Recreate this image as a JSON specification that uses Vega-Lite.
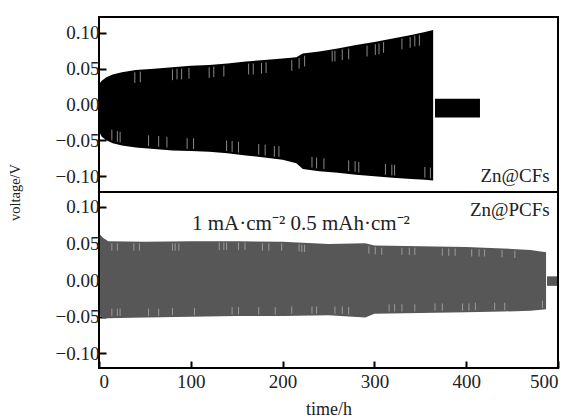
{
  "$schema": "https://vega.github.io/schema/vega-lite/v6.json",
  "autosize": {"type": "pad"},
  "padding": {"left": 6, "top": 16, "right": 14, "bottom": 0},
  "spacing": 0,
  "bounds": "flush",
  "background": "white",
  "config": {
    "font": "Liberation Serif, Times New Roman, Times, serif",
    "view": {"stroke": "black", "strokeWidth": 2},
    "axis": {
      "domain": false,
      "grid": false,
      "tickColor": "black",
      "tickWidth": 2,
      "tickSize": -7,
      "labelFont": "Liberation Serif, Times New Roman, Times, serif",
      "labelFontSize": 19,
      "labelColor": "#222",
      "titleFont": "Liberation Serif, Times New Roman, Times, serif",
      "titleFontSize": 18,
      "titleFontWeight": "normal",
      "titleColor": "#222"
    }
  },
  "datasets": {
    "cfs": [
      {"h": 1, "hi": 0.030, "lo": -0.040, "seg": "a"},
      {"h": 3, "hi": 0.033, "lo": -0.045, "seg": "a"},
      {"h": 8, "hi": 0.038, "lo": -0.050, "seg": "a"},
      {"h": 15, "hi": 0.042, "lo": -0.054, "seg": "a"},
      {"h": 25, "hi": 0.045, "lo": -0.057, "seg": "a"},
      {"h": 40, "hi": 0.048, "lo": -0.060, "seg": "a"},
      {"h": 60, "hi": 0.050, "lo": -0.062, "seg": "a"},
      {"h": 80, "hi": 0.052, "lo": -0.064, "seg": "a"},
      {"h": 100, "hi": 0.054, "lo": -0.065, "seg": "a"},
      {"h": 120, "hi": 0.055, "lo": -0.066, "seg": "a"},
      {"h": 140, "hi": 0.057, "lo": -0.068, "seg": "a"},
      {"h": 160, "hi": 0.060, "lo": -0.071, "seg": "a"},
      {"h": 180, "hi": 0.062, "lo": -0.074, "seg": "a"},
      {"h": 200, "hi": 0.064, "lo": -0.077, "seg": "a"},
      {"h": 215, "hi": 0.066, "lo": -0.082, "seg": "a"},
      {"h": 222, "hi": 0.071, "lo": -0.090, "seg": "a"},
      {"h": 240, "hi": 0.074, "lo": -0.093, "seg": "a"},
      {"h": 260, "hi": 0.078, "lo": -0.095, "seg": "a"},
      {"h": 280, "hi": 0.083, "lo": -0.098, "seg": "a"},
      {"h": 300, "hi": 0.087, "lo": -0.100, "seg": "a"},
      {"h": 320, "hi": 0.092, "lo": -0.102, "seg": "a"},
      {"h": 340, "hi": 0.097, "lo": -0.104, "seg": "a"},
      {"h": 355, "hi": 0.101, "lo": -0.105, "seg": "a"},
      {"h": 364, "hi": 0.104, "lo": -0.106, "seg": "a"},
      {"h": 366, "hi": 0.008, "lo": -0.018, "seg": "b"},
      {"h": 415, "hi": 0.008, "lo": -0.018, "seg": "b"}
    ],
    "pcfs": [
      {"h": 1, "hi": 0.062, "lo": -0.048, "seg": "a"},
      {"h": 4, "hi": 0.058, "lo": -0.052, "seg": "a"},
      {"h": 10, "hi": 0.053, "lo": -0.052, "seg": "a"},
      {"h": 50, "hi": 0.052, "lo": -0.051, "seg": "a"},
      {"h": 100, "hi": 0.053, "lo": -0.050, "seg": "a"},
      {"h": 150, "hi": 0.053, "lo": -0.049, "seg": "a"},
      {"h": 200, "hi": 0.052, "lo": -0.049, "seg": "a"},
      {"h": 250, "hi": 0.049, "lo": -0.048, "seg": "a"},
      {"h": 290, "hi": 0.050, "lo": -0.051, "seg": "a"},
      {"h": 300, "hi": 0.047, "lo": -0.046, "seg": "a"},
      {"h": 350, "hi": 0.046, "lo": -0.045, "seg": "a"},
      {"h": 400, "hi": 0.045, "lo": -0.044, "seg": "a"},
      {"h": 440, "hi": 0.043, "lo": -0.043, "seg": "a"},
      {"h": 470, "hi": 0.041, "lo": -0.042, "seg": "a"},
      {"h": 487, "hi": 0.038, "lo": -0.040, "seg": "a"},
      {"h": 488, "hi": 0.005, "lo": -0.008, "seg": "b"},
      {"h": 499, "hi": 0.005, "lo": -0.008, "seg": "b"}
    ],
    "cfsStripes": [
      {"h": 39, "v1": 0.045, "v2": 0.030}, {"h": 45, "v1": 0.046, "v2": 0.031},
      {"h": 80, "v1": 0.049, "v2": 0.034}, {"h": 85, "v1": 0.050, "v2": 0.035},
      {"h": 90, "v1": 0.050, "v2": 0.035}, {"h": 98, "v1": 0.051, "v2": 0.036},
      {"h": 120, "v1": 0.052, "v2": 0.037}, {"h": 125, "v1": 0.053, "v2": 0.038},
      {"h": 136, "v1": 0.054, "v2": 0.039}, {"h": 163, "v1": 0.057, "v2": 0.042},
      {"h": 168, "v1": 0.057, "v2": 0.042}, {"h": 177, "v1": 0.058, "v2": 0.043},
      {"h": 182, "v1": 0.059, "v2": 0.044}, {"h": 210, "v1": 0.062, "v2": 0.047},
      {"h": 218, "v1": 0.065, "v2": 0.050}, {"h": 224, "v1": 0.068, "v2": 0.053},
      {"h": 254, "v1": 0.075, "v2": 0.060}, {"h": 257, "v1": 0.075, "v2": 0.060},
      {"h": 265, "v1": 0.077, "v2": 0.062}, {"h": 272, "v1": 0.078, "v2": 0.063},
      {"h": 292, "v1": 0.082, "v2": 0.067}, {"h": 301, "v1": 0.084, "v2": 0.069},
      {"h": 305, "v1": 0.085, "v2": 0.070}, {"h": 310, "v1": 0.087, "v2": 0.072},
      {"h": 330, "v1": 0.092, "v2": 0.077}, {"h": 339, "v1": 0.094, "v2": 0.079},
      {"h": 344, "v1": 0.096, "v2": 0.081}, {"h": 349, "v1": 0.097, "v2": 0.082},
      {"h": 14, "v1": -0.050, "v2": -0.035}, {"h": 20, "v1": -0.052, "v2": -0.037},
      {"h": 23, "v1": -0.053, "v2": -0.038}, {"h": 54, "v1": -0.058, "v2": -0.043},
      {"h": 65, "v1": -0.059, "v2": -0.044}, {"h": 74, "v1": -0.060, "v2": -0.045},
      {"h": 96, "v1": -0.062, "v2": -0.047}, {"h": 103, "v1": -0.062, "v2": -0.047},
      {"h": 139, "v1": -0.065, "v2": -0.050}, {"h": 145, "v1": -0.066, "v2": -0.051},
      {"h": 152, "v1": -0.067, "v2": -0.052}, {"h": 174, "v1": -0.070, "v2": -0.055},
      {"h": 181, "v1": -0.071, "v2": -0.056}, {"h": 191, "v1": -0.073, "v2": -0.058},
      {"h": 196, "v1": -0.073, "v2": -0.058}, {"h": 232, "v1": -0.088, "v2": -0.073},
      {"h": 237, "v1": -0.089, "v2": -0.074}, {"h": 245, "v1": -0.090, "v2": -0.075},
      {"h": 272, "v1": -0.093, "v2": -0.078}, {"h": 279, "v1": -0.094, "v2": -0.079},
      {"h": 283, "v1": -0.095, "v2": -0.080}, {"h": 312, "v1": -0.098, "v2": -0.083},
      {"h": 319, "v1": -0.099, "v2": -0.084}, {"h": 322, "v1": -0.099, "v2": -0.084},
      {"h": 355, "v1": -0.102, "v2": -0.087}, {"h": 361, "v1": -0.103, "v2": -0.088}
    ],
    "pcfsStripes": [
      {"h": 14, "v1": 0.050, "v2": 0.040}, {"h": 20, "v1": 0.050, "v2": 0.040},
      {"h": 38, "v1": 0.050, "v2": 0.040}, {"h": 44, "v1": 0.050, "v2": 0.040},
      {"h": 80, "v1": 0.050, "v2": 0.040}, {"h": 83, "v1": 0.050, "v2": 0.040},
      {"h": 87, "v1": 0.050, "v2": 0.040}, {"h": 131, "v1": 0.051, "v2": 0.041},
      {"h": 136, "v1": 0.051, "v2": 0.041}, {"h": 139, "v1": 0.051, "v2": 0.041},
      {"h": 152, "v1": 0.051, "v2": 0.041}, {"h": 159, "v1": 0.051, "v2": 0.041},
      {"h": 178, "v1": 0.050, "v2": 0.040}, {"h": 185, "v1": 0.050, "v2": 0.040},
      {"h": 199, "v1": 0.050, "v2": 0.040}, {"h": 218, "v1": 0.049, "v2": 0.039},
      {"h": 221, "v1": 0.048, "v2": 0.038}, {"h": 224, "v1": 0.048, "v2": 0.038},
      {"h": 294, "v1": 0.046, "v2": 0.036}, {"h": 301, "v1": 0.045, "v2": 0.035},
      {"h": 308, "v1": 0.044, "v2": 0.034}, {"h": 330, "v1": 0.044, "v2": 0.034},
      {"h": 338, "v1": 0.044, "v2": 0.034}, {"h": 344, "v1": 0.044, "v2": 0.034},
      {"h": 374, "v1": 0.043, "v2": 0.033}, {"h": 381, "v1": 0.043, "v2": 0.033},
      {"h": 388, "v1": 0.043, "v2": 0.033}, {"h": 406, "v1": 0.042, "v2": 0.032},
      {"h": 414, "v1": 0.042, "v2": 0.032}, {"h": 420, "v1": 0.042, "v2": 0.032},
      {"h": 439, "v1": 0.041, "v2": 0.031}, {"h": 453, "v1": 0.040, "v2": 0.030},
      {"h": 14, "v1": -0.049, "v2": -0.039}, {"h": 20, "v1": -0.049, "v2": -0.039},
      {"h": 23, "v1": -0.049, "v2": -0.039}, {"h": 54, "v1": -0.049, "v2": -0.039},
      {"h": 65, "v1": -0.049, "v2": -0.039}, {"h": 80, "v1": -0.048, "v2": -0.038},
      {"h": 104, "v1": -0.048, "v2": -0.038}, {"h": 145, "v1": -0.047, "v2": -0.037},
      {"h": 152, "v1": -0.047, "v2": -0.037}, {"h": 174, "v1": -0.047, "v2": -0.037},
      {"h": 192, "v1": -0.047, "v2": -0.037}, {"h": 210, "v1": -0.046, "v2": -0.036},
      {"h": 232, "v1": -0.046, "v2": -0.036}, {"h": 237, "v1": -0.046, "v2": -0.036},
      {"h": 257, "v1": -0.046, "v2": -0.036}, {"h": 265, "v1": -0.046, "v2": -0.036},
      {"h": 272, "v1": -0.047, "v2": -0.037}, {"h": 316, "v1": -0.043, "v2": -0.033},
      {"h": 322, "v1": -0.043, "v2": -0.033}, {"h": 330, "v1": -0.043, "v2": -0.033},
      {"h": 344, "v1": -0.043, "v2": -0.033}, {"h": 366, "v1": -0.042, "v2": -0.032},
      {"h": 374, "v1": -0.042, "v2": -0.032}, {"h": 396, "v1": -0.042, "v2": -0.032},
      {"h": 403, "v1": -0.042, "v2": -0.032}, {"h": 410, "v1": -0.041, "v2": -0.031},
      {"h": 431, "v1": -0.041, "v2": -0.031}, {"h": 442, "v1": -0.041, "v2": -0.031},
      {"h": 483, "v1": -0.038, "v2": -0.028}
    ]
  },
  "vconcat": [
    {
      "width": 459,
      "height": 175,
      "layer": [
        {
          "data": {"name": "cfs"},
          "mark": {"type": "area", "color": "black", "interpolate": "linear"},
          "encoding": {
            "x": {"field": "h", "type": "quantitative", "scale": {"domain": [0, 500], "nice": false}, "axis": null},
            "y": {"field": "hi", "type": "quantitative",
              "scale": {"domain": [-0.122, 0.122], "nice": false, "zero": false},
              "axis": {"values": [-0.1, -0.05, 0, 0.05, 0.1], "format": ".2f", "labelPadding": 7,
                "title": "voltage/V", "titleFontSize": 14.5, "titleX": -84, "titleY": 175, "titleAngle": -90,
                "titleAlign": "center", "titleBaseline": "middle"}},
            "y2": {"field": "lo"},
            "detail": {"field": "seg"}
          }
        },
        {
          "data": {"name": "cfsStripes"},
          "mark": {"type": "rule", "color": "#8a8a8a", "strokeWidth": 1},
          "encoding": {
            "x": {"field": "h", "type": "quantitative"},
            "y": {"field": "v1", "type": "quantitative"},
            "y2": {"field": "v2"}
          }
        },
        {
          "data": {"values": [{"label": "Zn@CFs", "h": 491, "v": -0.100}]},
          "mark": {"type": "text", "align": "right", "baseline": "middle", "fontSize": 19, "color": "#222"},
          "encoding": {
            "x": {"field": "h", "type": "quantitative"},
            "y": {"field": "v", "type": "quantitative"},
            "text": {"field": "label"}
          }
        }
      ]
    },
    {
      "width": 459,
      "height": 176,
      "layer": [
        {
          "data": {"name": "pcfs"},
          "mark": {"type": "area", "color": "#575757", "interpolate": "linear"},
          "encoding": {
            "x": {"field": "h", "type": "quantitative", "scale": {"domain": [0, 500], "nice": false},
              "axis": {"values": [0, 100, 200, 300, 400, 500], "labelPadding": 11, "title": "time/h", "titlePadding": 9}},
            "y": {"field": "hi", "type": "quantitative",
              "scale": {"domain": [-0.12, 0.12], "nice": false, "zero": false},
              "axis": {"values": [-0.1, -0.05, 0, 0.05, 0.1], "format": ".2f", "labelPadding": 7, "title": null}},
            "y2": {"field": "lo"},
            "detail": {"field": "seg"}
          }
        },
        {
          "data": {"name": "pcfsStripes"},
          "mark": {"type": "rule", "color": "#9a9a9a", "strokeWidth": 1},
          "encoding": {
            "x": {"field": "h", "type": "quantitative"},
            "y": {"field": "v1", "type": "quantitative"},
            "y2": {"field": "v2"}
          }
        },
        {
          "data": {"values": [{"label": "Zn@PCFs", "h": 491, "v": 0.095}]},
          "mark": {"type": "text", "align": "right", "baseline": "middle", "fontSize": 19, "color": "#222"},
          "encoding": {
            "x": {"field": "h", "type": "quantitative"},
            "y": {"field": "v", "type": "quantitative"},
            "text": {"field": "label"}
          }
        },
        {
          "data": {"values": [{"label": "1 mA·cm⁻² 0.5 mAh·cm⁻²", "h": 220, "v": 0.076}]},
          "mark": {"type": "text", "align": "center", "baseline": "middle", "fontSize": 21, "color": "#222"},
          "encoding": {
            "x": {"field": "h", "type": "quantitative"},
            "y": {"field": "v", "type": "quantitative"},
            "text": {"field": "label"}
          }
        }
      ]
    }
  ]
}
